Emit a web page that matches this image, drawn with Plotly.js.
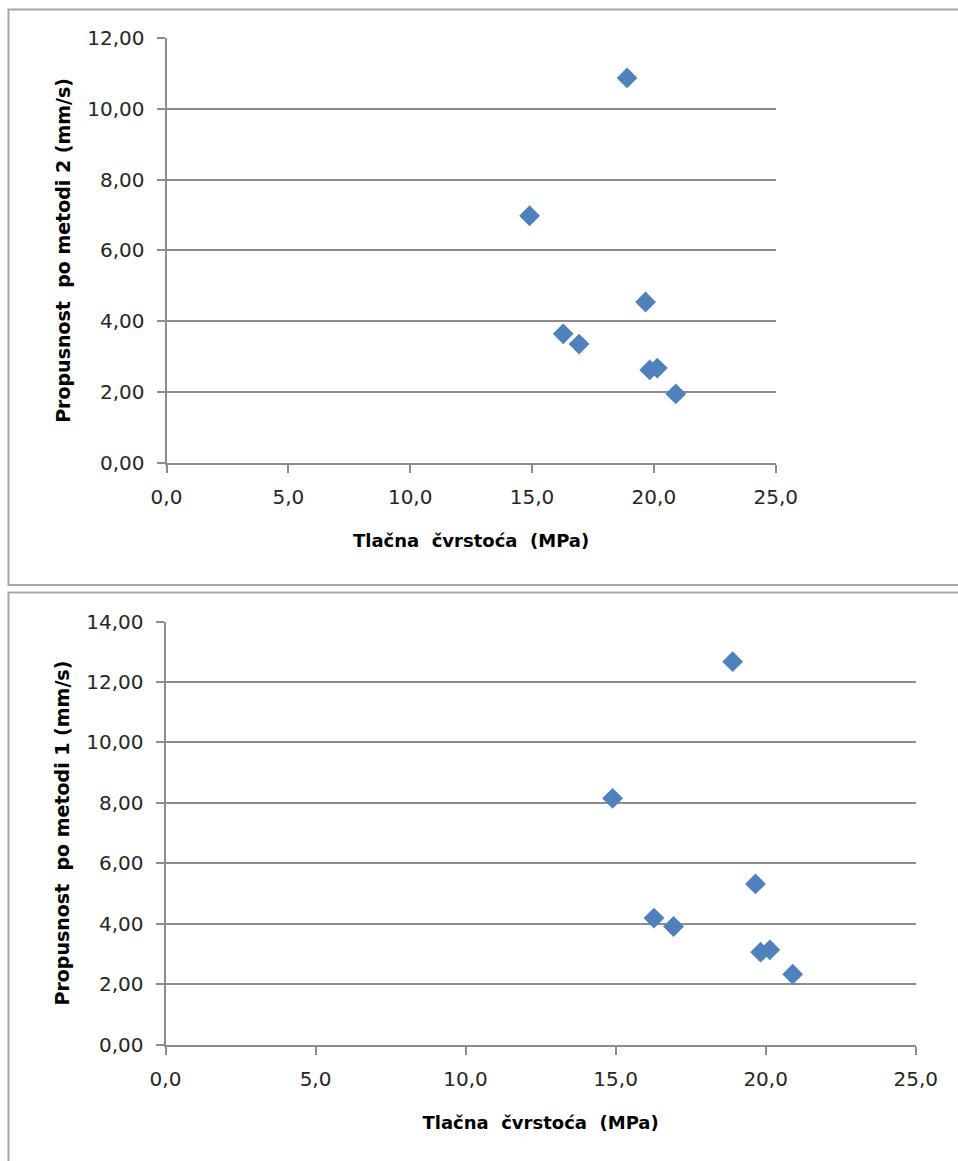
<!DOCTYPE html>
<html>
<head>
<meta charset="utf-8">
<script src="https://cdn.plot.ly/plotly-3.0.1.min.js"></script>
<style>
html,body{margin:0;padding:0;background:#fff;}
#chart{width:958px;height:1161px;}
</style>
</head>
<body>
<div id="chart"></div>
<script>
// Data
const strength = [18.9, 14.9, 19.66, 16.28, 16.93, 19.83, 20.14, 20.9];           // Tlačna čvrstoća (MPa)
const permMethod2 = [10.88, 6.98, 4.54, 3.64, 3.35, 2.62, 2.67, 1.94];             // top chart
const permMethod1 = [12.67, 8.15, 5.32, 4.19, 3.91, 3.06, 3.14, 2.33];             // bottom chart
const xTickVals = [0, 5, 10, 15, 20, 25];
const yTickVals2 = [0, 2, 4, 6, 8, 10, 12];
const yTickVals1 = [0, 2, 4, 6, 8, 10, 12, 14];
const xTitle = "Tlačna  čvrstoća  (MPa)";
const yTitle2 = "Propusnost  po metodi 2 (mm/s)";
const yTitle1 = "Propusnost  po metodi 1 (mm/s)";

const W = 958, H = 1161;
const px = v => v / W;
const py = v => 1 - v / H;

const FONT = "'DejaVu Sans', sans-serif";
const markerStyle = {symbol: 'diamond', size: 16, color: '#4F81BD', line: {width: 0}};

const traces = [
  {x: strength, y: permMethod2, type: 'scatter', mode: 'markers', marker: markerStyle, xaxis: 'x', yaxis: 'y', hoverinfo: 'x+y'},
  {x: strength, y: permMethod1, type: 'scatter', mode: 'markers', marker: markerStyle, xaxis: 'x2', yaxis: 'y2', hoverinfo: 'x+y'}
];

const tickFont = {family: FONT, size: 20, color: '#262626'};
const xTitleFont = {family: FONT, size: 18, color: '#000', weight: 'bold'};
const yTitleFont = {family: FONT, size: 19, color: '#000', weight: 'bold'};

function xAxis(domain, anchor) {
  return {
    domain: domain, anchor: anchor, range: [0, 25], tickvals: xTickVals, tickformat: '.1f',
    showgrid: false, zeroline: false, showline: true, linecolor: '#8c8c8c', linewidth: 2,
    ticks: 'outside', ticklen: 8, tickwidth: 2, tickcolor: '#8c8c8c',
    tickfont: tickFont, ticklabelstandoff: 7,
    title: {text: xTitle, font: xTitleFont, standoff: 27}, fixedrange: true
  };
}
function yAxis(domain, anchor, max, vals, title) {
  return {
    domain: domain, anchor: anchor, range: [0, max], tickvals: vals, tickformat: '.2f',
    showgrid: true, gridcolor: '#8c8c8c', gridwidth: 2, zeroline: false,
    showline: true, linecolor: '#8c8c8c', linewidth: 2,
    ticks: 'outside', ticklen: 8, tickwidth: 2, tickcolor: '#8c8c8c',
    tickfont: tickFont, ticklabelstandoff: 8,
    title: {text: title, font: yTitleFont, standoff: 12}, fixedrange: true
  };
}

const layout = {
  width: W, height: H,
  margin: {l: 0, r: 0, t: 0, b: 0},
  paper_bgcolor: '#fff', plot_bgcolor: 'rgba(0,0,0,0)',
  separators: ',.',
  showlegend: false,
  font: {family: FONT},
  xaxis: xAxis([px(166.5), px(775.7)], 'y'),
  yaxis: yAxis([py(462.5), py(38.3)], 'x', 12, yTickVals2, yTitle2),
  xaxis2: xAxis([px(165.5), px(915.7)], 'y2'),
  yaxis2: yAxis([py(1044.7), py(621.5)], 'x2', 14, yTickVals1, yTitle1),
  shapes: [
    {type: 'rect', xref: 'paper', yref: 'paper', x0: px(8.5), x1: 1.02, y0: py(585), y1: py(9.5),
     line: {color: '#a6a6a6', width: 2}, fillcolor: 'rgba(0,0,0,0)', layer: 'below'},
    {type: 'rect', xref: 'paper', yref: 'paper', x0: px(8.5), x1: 1.02, y0: -0.02, y1: py(592.5),
     line: {color: '#a6a6a6', width: 2}, fillcolor: 'rgba(0,0,0,0)', layer: 'below'}
  ]
};

Plotly.newPlot('chart', traces, layout, {displayModeBar: false, staticPlot: true});
</script>
</body>
</html>
